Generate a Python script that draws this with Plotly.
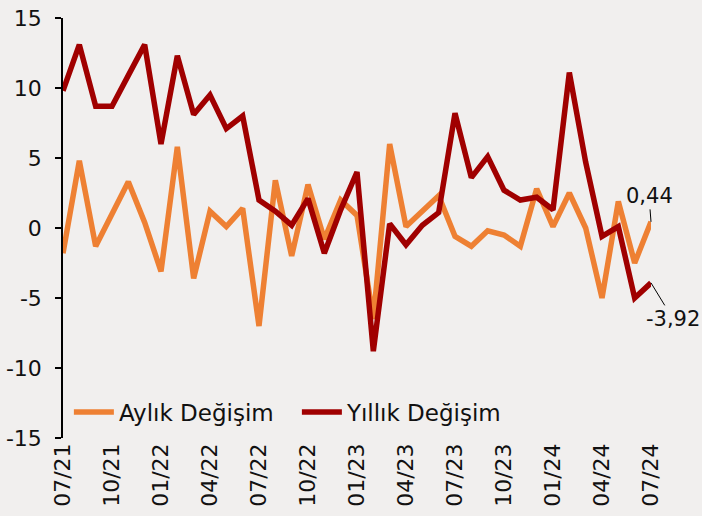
import plotly.graph_objects as go

months = ["07/21","08/21","09/21","10/21","11/21","12/21","01/22","02/22","03/22","04/22","05/22","06/22",
          "07/22","08/22","09/22","10/22","11/22","12/22","01/23","02/23","03/23","04/23","05/23","06/23",
          "07/23","08/23","09/23","10/23","11/23","12/23","01/24","02/24","03/24","04/24","05/24","06/24","07/24"]

aylik = [-1.8, 4.8, -1.3, 0.9, 3.3, 0.4, -3.1, 5.8, -3.6, 1.2, 0.1, 1.4,
         -7.0, 3.4, -2.0, 3.1, -0.8, 2.0, 0.9, -6.5, 6.0, 0.1, 1.2, 2.3,
         -0.6, -1.3, -0.2, -0.5, -1.3, 2.8, 0.1, 2.5, 0.0, -5.0, 1.9, -2.5, 0.44]

yillik = [9.8, 13.1, 8.7, 8.7, 10.9, 13.1, 6.0, 12.3, 8.1, 9.5, 7.1, 8.0,
          2.0, 1.2, 0.2, 2.1, -1.8, 1.3, 4.0, -8.8, 0.3, -1.2, 0.2, 1.1,
          8.2, 3.6, 5.1, 2.7, 2.0, 2.2, 1.3, 11.1, 4.7, -0.6, 0.1, -5.0, -3.92]

tick_idx = list(range(0, len(months), 3))
tick_text = [months[i] for i in tick_idx]
x = list(range(len(months)))

FONT = "DejaVu Sans"
ORANGE = "#EE8033"
RED = "#A00000"
BG = "#F1EFEE"

fig = go.Figure()
fig.add_trace(go.Scatter(x=x, y=aylik, mode="lines", name="Aylık Değişim",
                         line=dict(color=ORANGE, width=5.5)))
fig.add_trace(go.Scatter(x=x, y=yillik, mode="lines", name="Yıllık Değişim",
                         line=dict(color=RED, width=5.5)))

fig.update_layout(
    width=702, height=516,
    margin=dict(l=63, r=51, t=18, b=78, autoexpand=False),
    paper_bgcolor=BG, plot_bgcolor=BG,
    font=dict(family=FONT, size=21, color="#111111"),
    showlegend=True,
    legend=dict(orientation="h", x=0.01, y=0.062, xanchor="left", yanchor="middle",
                bgcolor="rgba(0,0,0,0)", font=dict(size=23), itemwidth=40,
                entrywidth=173, entrywidthmode="pixels"),
    xaxis=dict(range=[0, 36], tickmode="array", tickvals=tick_idx, ticktext=tick_text,
               tickangle=-90, showline=False, showgrid=False, zeroline=False, ticks="",
               automargin=False, tickfont=dict(size=22)),
    xaxis2=dict(range=[0, 36], overlaying="x", anchor="free", position=0.5, side="bottom",
                tickmode="array", tickvals=tick_idx, showticklabels=False,
                ticks="outside", ticklen=6, tickcolor="black", tickwidth=1.5,
                showline=True, linecolor="black", linewidth=1.5, showgrid=False, zeroline=False),
    yaxis=dict(range=[-15, 15], tickmode="array", tickvals=[-15, -10, -5, 0, 5, 10, 15],
               ticktext=["-15", "-10", "-5", "0", "5", "10", "15"],
               showline=True, linecolor="black", linewidth=1.5, ticks="outside", ticklen=6,
               tickcolor="black", tickwidth=1.5, showgrid=False, zeroline=False,
               ticklabelstandoff=9, automargin=False, tickfont=dict(size=22)),
)

fig.add_annotation(x=36, y=aylik[-1], text="0,44", showarrow=True, arrowhead=0,
                   arrowwidth=1, arrowcolor="black", ax=-2, ay=-26,
                   font=dict(size=21, color="#111111"))
fig.add_annotation(x=36, y=yillik[-1], text="-3,92", showarrow=True, arrowhead=0,
                   arrowwidth=1, arrowcolor="black", ax=22, ay=36,
                   font=dict(size=21, color="#111111"))

fig.write_html("out.html", config={"displayModeBar": False},
               post_script="document.body.style.margin='0';")
